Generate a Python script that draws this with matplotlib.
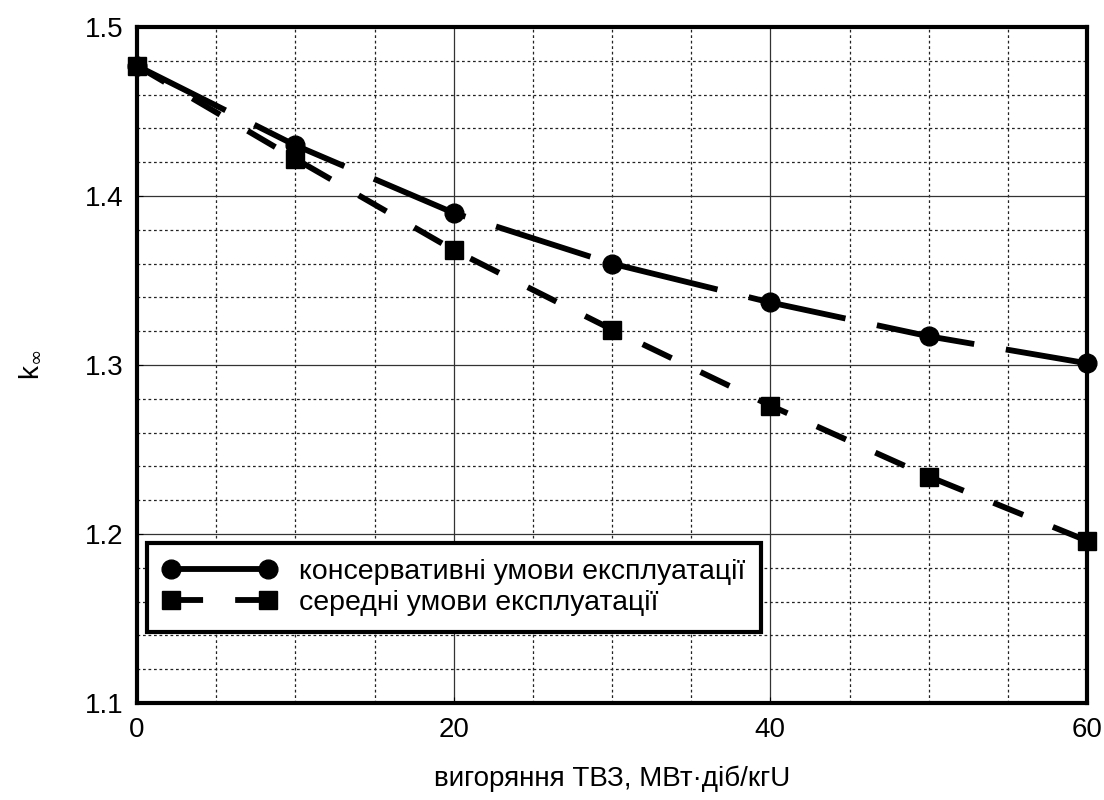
import matplotlib
matplotlib.use('Agg')
import matplotlib.pyplot as plt
import numpy as np

plt.rcParams['font.family'] = ['Liberation Sans', 'DejaVu Sans']

burnup = [0, 10, 20, 30, 40, 50, 60]
k_conservative = [1.477, 1.430, 1.390, 1.360, 1.337, 1.317, 1.301]
k_average = [1.477, 1.422, 1.368, 1.321, 1.276, 1.234, 1.196]
labels = ['консервативні умови експлуатації', 'середні умови експлуатації']

fig = plt.figure(figsize=(11.04, 8), dpi=100)
ax = fig.add_axes([0.1241, 0.12125, 0.8605, 0.845])

ax.plot(burnup, k_conservative, color='black', lw=4.2, marker='o', ms=13.5,
        dashes=(17, 5.5), label=labels[0], clip_on=False, zorder=3)
ax.plot(burnup, k_average, color='black', lw=4.2, marker='s', ms=13,
        dashes=(5.5, 5.5), label=labels[1], clip_on=False, zorder=3)

ax.set_xlim(0, 60)
ax.set_ylim(1.1, 1.5)
ax.set_xticks([0, 20, 40, 60])
ax.set_yticks([1.1, 1.2, 1.3, 1.4, 1.5])
ax.set_yticklabels(['1.1', '1.2', '1.3', '1.4', '1.5'])
ax.set_xticks(np.arange(0, 61, 5), minor=True)
ax.set_yticks(np.arange(1.1, 1.5, 0.02), minor=True)
ax.grid(which='major', color='#333333', lw=0.9)
ax.grid(which='minor', color='#222222', lw=0.9, linestyle=(0, (2.2, 2.2)))
ax.tick_params(which='major', direction='in', length=4, labelsize=20, pad=10)
ax.tick_params(which='minor', length=0)
for s in ax.spines.values():
    s.set_linewidth(3)

ax.set_xlabel('вигоряння ТВЗ, МВт·діб/кгU', fontsize=20, labelpad=16)
ax.set_ylabel(r'k$_\infty$', fontsize=20, labelpad=30)

leg = ax.legend(loc='lower left', bbox_to_anchor=(0.0105, 0.105), fontsize=20.5,
                numpoints=2, handlelength=4.0, fancybox=False, framealpha=1,
                edgecolor='black', borderpad=0.55, labelspacing=0.2,
                handletextpad=0.8, borderaxespad=0)
leg.get_frame().set_linewidth(3)

plt.savefig('out.png', dpi=100)
